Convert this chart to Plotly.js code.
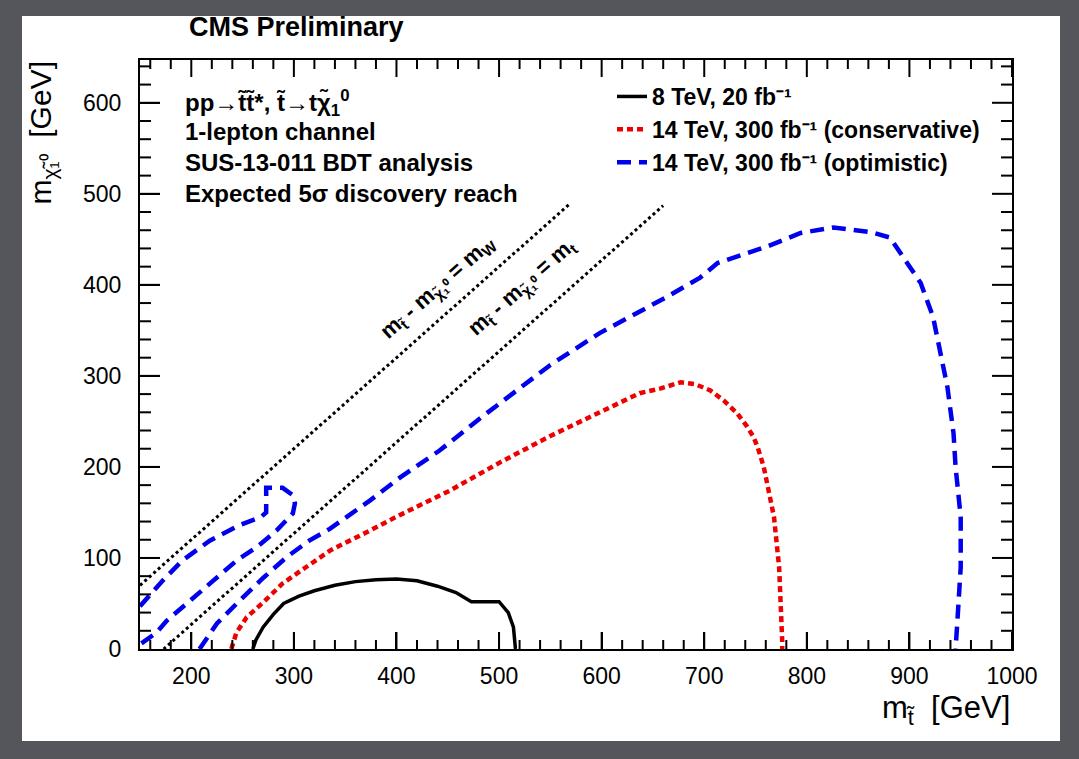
<!DOCTYPE html>
<html>
<head>
<meta charset="utf-8">
<script src="https://cdn.plot.ly/plotly-3.0.1.min.js"></script>
<style>
  html, body { margin: 0; padding: 0; background: #55565c; }
</style>
</head>
<body>
<div id="chart"></div>
<script>
// ---- data ----
// 8 TeV, 20 fb-1 (solid black)
const lhc8X = [260, 263, 270, 280, 290, 305, 320, 340, 360, 380, 400, 420, 440, 458, 473, 500, 509, 514, 516];
const lhc8Y = [0, 10, 24, 38, 50, 58, 64, 70, 74, 76, 77, 75, 69, 62, 52, 52, 40, 24, 0];

// 14 TeV, 300 fb-1 conservative (red dotted)
const consX = [239, 244, 254, 270, 289, 312, 335, 374, 403, 452, 501, 550, 598, 637, 657, 677, 691, 706, 719, 732, 742, 748, 752, 758, 768, 773, 776, 776];
const consY = [0, 18, 35, 51, 72, 90, 108, 130, 147, 174, 205, 234, 260, 281, 286, 293, 291, 284, 273, 259, 244, 233, 222, 200, 145, 90, 9, 0];

// 14 TeV, 300 fb-1 optimistic (blue dashed), main contour
const optX = [208, 225, 247, 270, 293, 315, 335, 374, 403, 442, 481, 511, 550, 598, 637, 664, 696, 713, 761, 794, 826, 862, 881, 911, 923, 930, 937, 943, 945, 950, 950, 947, 945];
const optY = [0, 28, 53, 78, 101, 119, 132, 163, 188, 218, 253, 279, 312, 347, 370, 387, 408, 424, 442, 457, 463, 458, 452, 402, 365, 328, 288, 237, 200, 145, 90, 35, 0];

// optimistic, small island near the left edge
const optIslandX = [150, 172, 191, 218, 247, 268, 273, 273, 289, 299, 301, 299, 283, 264, 244, 221, 198, 176, 166, 152, 150];
const optIslandY = [47, 75, 97, 119, 136, 145, 150, 177, 177, 169, 160, 149, 130, 112, 97, 75, 53, 31, 18, 7, 5];

// kinematic lines  m_stop - m_LSP = m_W  and  = m_t
const mwLineX = [150, 569];
const mwLineY = [70, 489];
const mtLineX = [173, 660];
const mtLineY = [0, 487];

// axis ticks
const xRange = [150, 1000];
const yRange = [0, 647];
const xTickVals = [200, 300, 400, 500, 600, 700, 800, 900, 1000];
const xTickText = ["200", "300", "400", "500", "600", "700", "800", "900", "1000"];
const yTickVals = [0, 100, 200, 300, 400, 500, 600];
const yTickText = ["0", "100", "200", "300", "400", "500", "600"];
const minorStep = 20;

const infoLines = [
  "pp\u2192t\u0303t\u0303*, t\u0303\u2192t\u03c7\u0303<sub>1</sub><sup>0</sup>",
  "1-lepton channel",
  "SUS-13-011 BDT analysis",
  "Expected 5\u03c3 discovery reach"
];
const seriesNames = [
  "8 TeV, 20 fb\u207b\u00b9",
  "14 TeV, 300 fb\u207b\u00b9 (conservative)",
  "14 TeV, 300 fb\u207b\u00b9 (optimistic)"
];

// ---- chart ----
const FONT = "Liberation Sans, Arial, Helvetica, sans-serif";

const traces = [
  {x: mwLineX, y: mwLineY, mode: "lines", showlegend: false,
   line: {color: "black", width: 3, dash: "3px,3px"}},
  {x: mtLineX, y: mtLineY, mode: "lines", showlegend: false,
   line: {color: "black", width: 3, dash: "3px,3px"}},
  {x: lhc8X, y: lhc8Y, mode: "lines", name: seriesNames[0],
   line: {color: "black", width: 3.5}},
  {x: consX, y: consY, mode: "lines", name: seriesNames[1],
   line: {color: "#ee0000", width: 4.5, dash: "6px,4px"}},
  {x: optX, y: optY, mode: "lines", name: seriesNames[2],
   line: {color: "#0000ee", width: 4.5, dash: "14px,8px"}},
  {x: optIslandX, y: optIslandY, mode: "lines", showlegend: false,
   line: {color: "#0000ee", width: 4.5, dash: "14px,8px"}}
];

const plotL = 140, plotR = 1012, plotT = 60, plotB = 649;
const pw = plotR - plotL, ph = plotB - plotT;
const px = v => (v - plotL) / pw;
const py = v => (plotB - v) / ph;

const annotations = [];
const infoY = [103, 131, 162, 193];
infoLines.forEach((t, i) => annotations.push({
  xref: "paper", yref: "paper", x: px(183), y: py(infoY[i]), xanchor: "left", yanchor: "middle",
  text: "<b>" + t + "</b>", showarrow: false, font: {family: FONT, size: 24, color: "black"}
}));
annotations.push({
  xref: "paper", yref: "paper", x: px(296), y: py(27), xanchor: "center", yanchor: "middle",
  text: "<b>CMS Preliminary</b>", showarrow: false, font: {family: FONT, size: 27, color: "black"}
});
annotations.push({
  xref: "x", yref: "y", x: 440, y: 397, textangle: -41.6,
  text: "<b>m<sub>t\u0303</sub> - m<sub>\u03c7\u0303\u2081\u2070</sub> = m<sub>W</sub></b>",
  showarrow: false, font: {family: FONT, size: 22, color: "black"}
});
annotations.push({
  xref: "x", yref: "y", x: 522, y: 397, textangle: -41.6,
  text: "<b>m<sub>t\u0303</sub> - m<sub>\u03c7\u0303\u2081\u2070</sub> = m<sub>t</sub></b>",
  showarrow: false, font: {family: FONT, size: 22, color: "black"}
});
annotations.push({
  xref: "paper", yref: "paper", x: 1, y: py(710), xanchor: "right", yanchor: "middle",
  text: "m<sub>t\u0303</sub>  [GeV]", showarrow: false, font: {family: FONT, size: 31, color: "black"}
});
annotations.push({
  xref: "paper", yref: "paper", x: px(42), y: 1, xanchor: "center", yanchor: "top", textangle: -90,
  text: "m<sub>\u03c7\u0303\u2081\u2070</sub>  [GeV]", showarrow: false, font: {family: FONT, size: 30, color: "black"}
});

// ROOT-style tick marks on all four sides, placed through the axes
const tickLine = {color: "black", width: 2};
const shapes = [{
  type: "rect", xref: "paper", yref: "paper", layer: "below",
  x0: px(22), x1: px(1060), y0: py(741), y1: py(16),
  fillcolor: "white", line: {width: 0}
}];
function addXTick(v, len) {
  shapes.push({type: "line", layer: "above", xref: "x", yref: "paper", x0: v, x1: v,
    ysizemode: "pixel", yanchor: 0, y0: 0, y1: len, line: tickLine});
  shapes.push({type: "line", layer: "above", xref: "x", yref: "paper", x0: v, x1: v,
    ysizemode: "pixel", yanchor: 1, y0: 0, y1: -len, line: tickLine});
}
function addYTick(v, len) {
  shapes.push({type: "line", layer: "above", xref: "paper", yref: "y", y0: v, y1: v,
    xsizemode: "pixel", xanchor: 0, x0: 0, x1: len, line: tickLine});
  shapes.push({type: "line", layer: "above", xref: "paper", yref: "y", y0: v, y1: v,
    xsizemode: "pixel", xanchor: 1, x0: 0, x1: -len, line: tickLine});
}
xTickVals.forEach(v => addXTick(v, 17));
for (let v = xRange[0] + (minorStep - xRange[0] % minorStep) % minorStep; v < xRange[1]; v += minorStep) {
  if (!xTickVals.includes(v)) addXTick(v, 9);
}
yTickVals.forEach(v => { if (v > yRange[0]) addYTick(v, 20); });
for (let v = yRange[0] + minorStep; v < yRange[1]; v += minorStep) {
  if (!yTickVals.includes(v)) addYTick(v, 11);
}

const layout = {
  width: 1079, height: 759,
  paper_bgcolor: "#55565c",
  plot_bgcolor: "white",
  margin: {l: plotL, r: 1079 - plotR, t: plotT, b: 759 - plotB},
  showlegend: true,
  legend: {
    x: px(612), y: py(75), xanchor: "left", yanchor: "top",
    bgcolor: "rgba(0,0,0,0)", borderwidth: 0,
    traceorder: "normal",
    font: {family: FONT, size: 23, color: "black", weight: "bold"}
  },
  xaxis: {
    range: xRange, showgrid: false, zeroline: false,
    showline: true, linecolor: "black", linewidth: 2, mirror: true,
    ticks: "inside", ticklen: 17, tickwidth: 2, tickcolor: "black",
    tickvals: xTickVals, ticktext: xTickText, ticklabelstandoff: 5,
    tickfont: {family: FONT, size: 23, color: "black"}
  },
  yaxis: {
    range: yRange, showgrid: false, zeroline: false,
    showline: true, linecolor: "black", linewidth: 2, mirror: true,
    ticks: "inside", ticklen: 20, tickwidth: 2, tickcolor: "black",
    tickvals: yTickVals, ticktext: yTickText, ticklabelstandoff: 12,
    tickfont: {family: FONT, size: 23, color: "black"}
  },
  shapes: shapes,
  annotations: annotations
};

Plotly.newPlot("chart", traces, layout, {displayModeBar: false, staticPlot: true});
</script>
</body>
</html>
